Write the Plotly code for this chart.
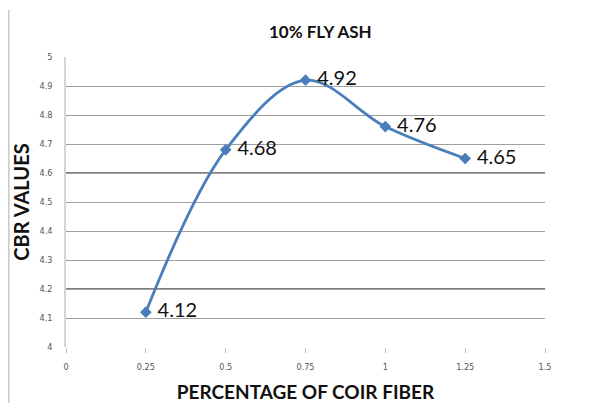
import plotly.graph_objects as go

fiber_pct = [0.25, 0.5, 0.75, 1.0, 1.25]
cbr_values = [4.12, 4.68, 4.92, 4.76, 4.65]
labels = ["4.12", "4.68", "4.92", "4.76", "4.65"]
x_ticks = [0, 0.25, 0.5, 0.75, 1, 1.25, 1.5]
x_tick_text = ["0", "0.25", "0.5", "0.75", "1", "1.25", "1.5"]
y_ticks = [4, 4.1, 4.2, 4.3, 4.4, 4.5, 4.6, 4.7, 4.8, 4.9, 5]
y_tick_text = ["4", "4.1", "4.2", "4.3", "4.4", "4.5", "4.6", "4.7", "4.8", "4.9", "5"]

fig = go.Figure()
fig.add_trace(go.Scatter(
    x=fiber_pct, y=cbr_values, mode="lines+markers+text",
    line=dict(color="#4a7ebb", width=2.8, shape="spline", smoothing=1.0),
    marker=dict(symbol="diamond", size=9, color="#4a7ebb"),
    text=[" " + t for t in labels], textposition="middle right",
    textfont=dict(family="Lato, Open Sans, sans-serif", size=20, color="#111111"),
    cliponaxis=False, showlegend=False,
))

for yv in [4.2, 4.6]:
    fig.add_shape(type="line", xref="x", yref="y", x0=0, x1=1.5, y0=yv, y1=yv,
                  line=dict(color="#808080", width=2.2), layer="below")

# page frame line on the far left
fig.add_shape(type="line", xref="paper", yref="paper", x0=-0.1194, x1=-0.1194, y0=-0.25, y1=1.162,
              line=dict(color="#c8c8c8", width=1.5))

fig.update_layout(
    width=616, height=403,
    margin=dict(l=58, r=79, t=49, b=64, autoexpand=False),
    paper_bgcolor="white", plot_bgcolor="white",
    title=dict(text="<b>10% FLY ASH</b>", x=0.507, xanchor="center", y=0.94, yanchor="middle",
               font=dict(family="Lato, Open Sans, sans-serif", size=17, color="#111111")),
    xaxis=dict(range=[0, 1.5], tickvals=x_ticks, ticktext=x_tick_text, automargin=False,
               showgrid=False, zeroline=False, showline=False,
               ticks="outside", ticklen=5, tickcolor="#c0c0c0", ticklabelstandoff=6,
               tickfont=dict(family="DejaVu Sans Condensed, sans-serif", size=9, color="#555555"),
               title=dict(text="<b>PERCENTAGE OF COIR FIBER</b>", standoff=14,
                          font=dict(family="Lato, Open Sans, sans-serif", size=19, color="#111111"))),
    yaxis=dict(range=[4, 5], tickvals=y_ticks, ticktext=y_tick_text, automargin=False,
               showgrid=True, gridcolor="#a0a0a0", gridwidth=1, zeroline=False,
               showline=True, linecolor="#d6d6d6", linewidth=1.5,
               ticks="", ticklabelstandoff=10,
               tickfont=dict(family="DejaVu Sans Condensed, sans-serif", size=9, color="#555555"),
               title=dict(text="<b>CBR VALUES</b>", standoff=5,
                          font=dict(family="Lato, Open Sans, sans-serif", size=20, color="#111111"))),
)

fig.write_html("out.html")
